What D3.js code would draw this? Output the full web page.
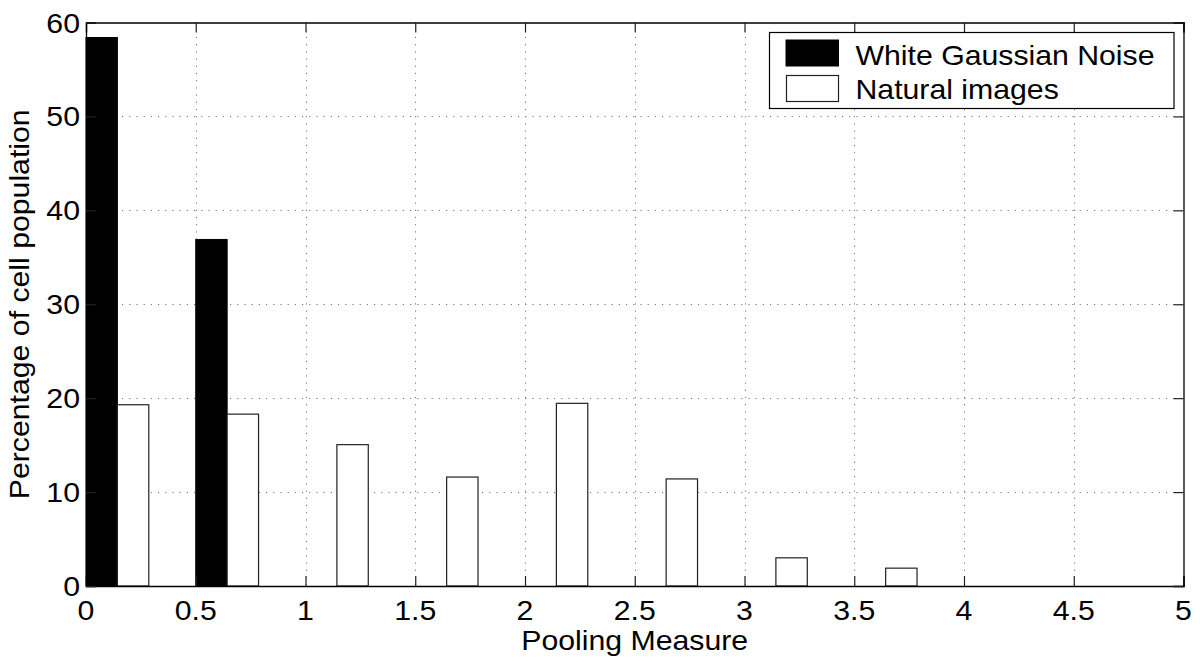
<!DOCTYPE html>
<html>
<head>
<meta charset="utf-8">
<script src="https://cdn.jsdelivr.net/npm/d3@7"></script>
<style>
  html, body { margin: 0; padding: 0; background: #fff; }
  svg { display: block; }
  text { font-family: "Liberation Sans", Arial, Helvetica, sans-serif; fill: #000; }
</style>
</head>
<body>
<svg id="chart" width="1200" height="663"></svg>
<script>
// ---- data ----
const binCenters = [0.143, 0.643, 1.143, 1.643, 2.143, 2.643, 3.143, 3.643, 4.143, 4.643];
const whiteNoise = [58.4, 36.9, 0, 0, 0, 0, 0, 0, 0, 0];
const naturalImages = [19.3, 18.3, 15.05, 11.6, 19.45, 11.4, 3.0, 1.9, 0, 0];
const seriesNames = ["White Gaussian Noise", "Natural images"];
const xTicks = [0, 0.5, 1, 1.5, 2, 2.5, 3, 3.5, 4, 4.5, 5];
const xTickLabels = ["0", "0.5", "1", "1.5", "2", "2.5", "3", "3.5", "4", "4.5", "5"];
const yTicks = [0, 10, 20, 30, 40, 50, 60];
const xLabel = "Pooling Measure";
const yLabel = "Percentage of cell population";

// ---- layout ----
const mL = 86, mR = 1183.5, mT = 22.5, mB = 586;
const barW = 0.143; // in data units
const fs = 28, sx = 1.08;

const svg = d3.select("#chart");
const x = d3.scaleLinear().domain([0, 5]).range([mL, mR]);
const y = d3.scaleLinear().domain([0, 60]).range([mB, mT]);

function stretchText(g, txt, px, py, anchor, rot) {
  return g.append("text")
    .attr("transform", `translate(${px},${py})` + (rot ? ` rotate(${rot})` : "") + ` scale(${sx},1)`)
    .attr("text-anchor", anchor)
    .attr("font-size", fs)
    .text(txt);
}

// grid
const grid = svg.append("g").attr("stroke", "#777").attr("stroke-width", 1).attr("stroke-dasharray", "1.2,6");
grid.selectAll("line.vx").data(xTicks.slice(1, -1)).enter().append("line")
  .attr("x1", d => Math.round(x(d)) + 0.5).attr("x2", d => Math.round(x(d)) + 0.5)
  .attr("y1", mT).attr("y2", mB);
grid.selectAll("line.hy").data(yTicks.slice(1, -1)).enter().append("line")
  .attr("x1", mL).attr("x2", mR)
  .attr("y1", d => Math.round(y(d)) + 0.5).attr("y2", d => Math.round(y(d)) + 0.5);

// bars
const bars = svg.append("g");
bars.selectAll("rect.wgn").data(binCenters.map((c, i) => ({c, v: whiteNoise[i]})).filter(d => d.v > 0))
  .enter().append("rect")
  .attr("x", d => x(d.c - barW)).attr("width", d => x(d.c) - x(d.c - barW))
  .attr("y", d => y(d.v)).attr("height", d => y(0) - y(d.v))
  .attr("fill", "#000").attr("stroke", "#000").attr("stroke-width", 1);
bars.selectAll("rect.nat").data(binCenters.map((c, i) => ({c, v: naturalImages[i]})).filter(d => d.v > 0))
  .enter().append("rect")
  .attr("x", d => x(d.c)).attr("width", d => x(d.c + barW) - x(d.c))
  .attr("y", d => y(d.v)).attr("height", d => y(0) - y(d.v))
  .attr("fill", "#fff").attr("stroke", "#222").attr("stroke-width", 1.2);

// axes frame with inward ticks
const tl = 10;
const axB = svg.append("g").attr("transform", `translate(0,${mB})`)
  .call(d3.axisBottom(x).tickValues(xTicks).tickSize(-tl).tickFormat(""));
const axT = svg.append("g").attr("transform", `translate(0,${mT})`)
  .call(d3.axisTop(x).tickValues(xTicks).tickSize(-tl).tickFormat(""));
const axL = svg.append("g").attr("transform", `translate(${mL},0)`)
  .call(d3.axisLeft(y).tickValues(yTicks).tickSize(-tl).tickFormat(""));
const axR = svg.append("g").attr("transform", `translate(${mR},0)`)
  .call(d3.axisRight(y).tickValues(yTicks).tickSize(-tl).tickFormat(""));
[axB, axT, axL, axR].forEach(a => {
  a.selectAll("path.domain").attr("stroke", "#000").attr("stroke-width", 1.3);
  a.selectAll(".tick line").attr("stroke", "#222").attr("stroke-width", 1.2);
});

// tick labels
const lab = svg.append("g");
xTicks.forEach((t, i) => stretchText(lab, xTickLabels[i], x(t), 619.5, "middle"));
yTicks.forEach(t => stretchText(lab, String(t), 80, y(t) + 10, "end"));

// axis titles
stretchText(lab, xLabel, (mL + mR) / 2, 649.5, "middle");
stretchText(lab, yLabel, 29, (mT + mB) / 2, "middle", -90);

// legend
const lg = svg.append("g");
lg.append("rect").attr("x", 769.5).attr("y", 32.5).attr("width", 404.5).attr("height", 76)
  .attr("fill", "#fff").attr("stroke", "#000").attr("stroke-width", 1.2);
lg.append("rect").attr("x", 786).attr("y", 40).attr("width", 52.5).attr("height", 26)
  .attr("fill", "#000").attr("stroke", "#000");
lg.append("rect").attr("x", 786.5).attr("y", 75.5).attr("width", 52).attr("height", 26)
  .attr("fill", "#fff").attr("stroke", "#222").attr("stroke-width", 1.2);
stretchText(lg, seriesNames[0], 855.5, 64.5, "start");
stretchText(lg, seriesNames[1], 855.5, 99, "start");
</script>
</body>
</html>
